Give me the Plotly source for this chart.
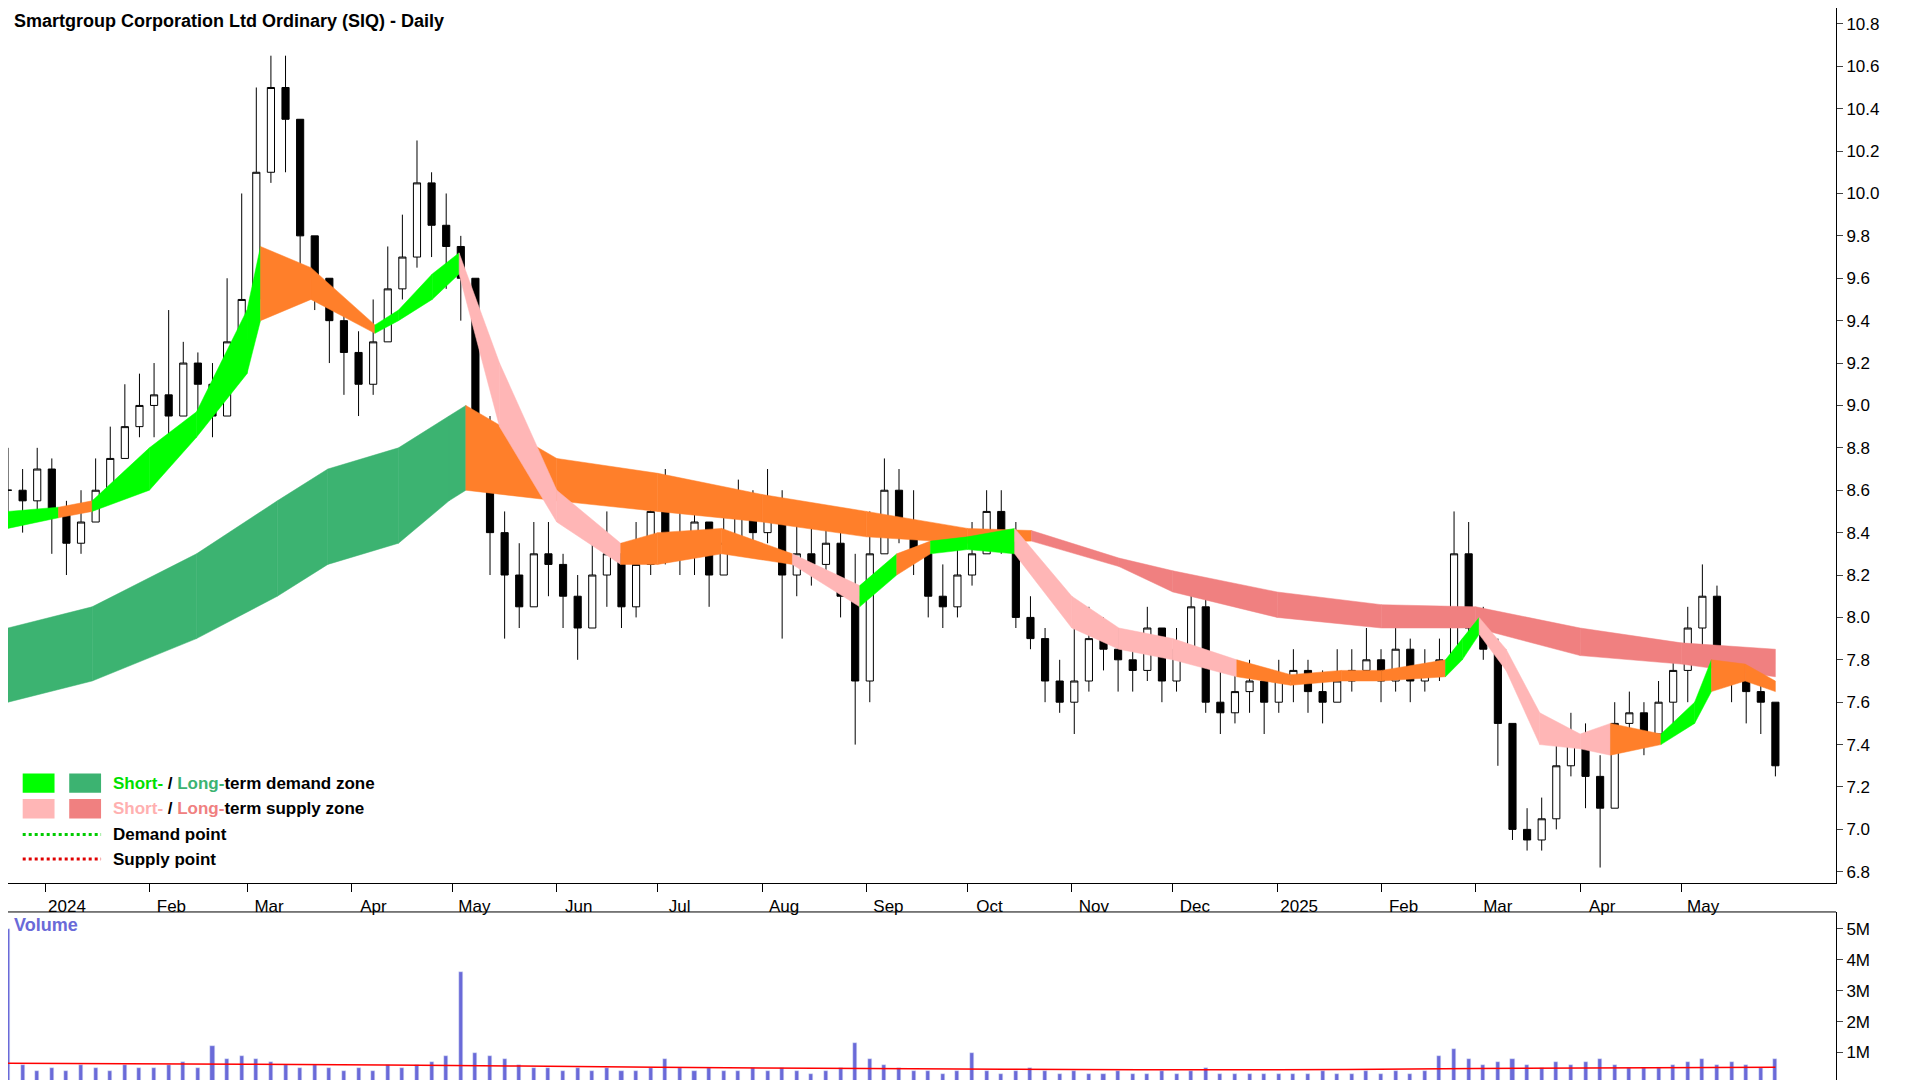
import pandas as pd
import plotly.graph_objects as go

# ---- price data (one bar per ~4 calendar days) ----
close = [8.6, 8.55, 8.7,
         8.5, 8.35, 8.45, 8.6, 8.75, 8.9, 9.0,
         9.05, 8.95, 9.2, 9.1, 8.95, 9.3, 9.5,
         10.1, 10.5, 10.35, 9.8, 9.6, 9.4, 9.25,
         9.1, 9.3, 9.55, 9.7, 10.05, 9.85, 9.75,
         9.6, 8.7, 8.4, 8.2, 8.05, 8.3, 8.25,
         8.1, 7.95, 8.2, 8.3, 8.05, 8.25, 8.5,
         8.4, 8.3, 8.45, 8.2, 8.35, 8.5, 8.4,
         8.55, 8.2, 8.3, 8.25, 8.35, 8.1, 7.7,
         8.3, 8.6, 8.45, 8.3, 8.1, 8.05, 8.2,
         8.3, 8.5, 8.4, 8.0, 7.9, 7.7, 7.6,
         7.7, 7.9, 7.85, 7.8, 7.75, 7.95, 7.7,
         7.85, 8.05, 7.6, 7.55, 7.65, 7.7, 7.6,
         7.7, 7.75, 7.65, 7.6, 7.7, 7.75, 7.8,
         7.7, 7.85, 7.7, 7.75, 7.8, 8.3, 7.95,
         7.85, 7.5, 7.0, 6.95, 7.05, 7.3, 7.4,
         7.25, 7.1, 7.5, 7.55, 7.45, 7.6, 7.75,
         7.95, 8.1, 7.8, 7.7, 7.65, 7.6, 7.3]
high = [8.8, 8.7, 8.8,
        8.75, 8.55, 8.6, 8.75, 8.9, 9.1, 9.15,
        9.2, 9.45, 9.3, 9.25, 9.2, 9.6, 10.0,
        10.5, 10.65, 10.65, 10.35, 9.8, 9.6, 9.45,
        9.35, 9.5, 9.75, 9.9, 10.25, 10.1, 10.0,
        9.8, 9.6, 8.95, 8.5, 8.35, 8.45, 8.45,
        8.3, 8.2, 8.35, 8.5, 8.35, 8.45, 8.65,
        8.7, 8.5, 8.6, 8.45, 8.6, 8.65, 8.6,
        8.7, 8.6, 8.45, 8.45, 8.5, 8.4, 8.3,
        8.5, 8.75, 8.7, 8.6, 8.3, 8.25, 8.35,
        8.45, 8.6, 8.6, 8.45, 8.1, 7.95, 7.8,
        7.95, 8.05, 8.0, 7.95, 7.9, 8.05, 7.95,
        7.95, 8.15, 8.1, 7.75, 7.8, 7.8, 7.75,
        7.8, 7.85, 7.8, 7.75, 7.85, 7.85, 7.95,
        7.85, 7.95, 7.9, 7.85, 7.9, 8.5, 8.45,
        8.05, 7.9, 7.5, 7.1, 7.15, 7.4, 7.55,
        7.5, 7.35, 7.6, 7.65, 7.6, 7.7, 7.85,
        8.05, 8.25, 8.15, 7.85, 7.8, 7.75, 7.6]
low = [8.45, 8.4, 8.5,
       8.3, 8.2, 8.3, 8.45, 8.6, 8.75, 8.85,
       8.85, 8.85, 8.95, 8.9, 8.85, 8.95, 9.3,
       9.5, 10.05, 10.1, 9.6, 9.45, 9.2, 9.05,
       8.95, 9.05, 9.3, 9.5, 9.65, 9.7, 9.55,
       9.4, 8.6, 8.2, 7.9, 7.95, 8.05, 8.1,
       7.95, 7.8, 7.95, 8.05, 7.95, 8.0, 8.2,
       8.25, 8.2, 8.2, 8.05, 8.2, 8.3, 8.3,
       8.35, 7.9, 8.1, 8.15, 8.2, 8.0, 7.4,
       7.6, 8.3, 8.35, 8.2, 8.0, 7.95, 8.0,
       8.15, 8.3, 8.3, 7.95, 7.85, 7.6, 7.55,
       7.45, 7.65, 7.75, 7.65, 7.65, 7.7, 7.6,
       7.65, 7.8, 7.55, 7.45, 7.5, 7.55, 7.45,
       7.55, 7.6, 7.55, 7.5, 7.6, 7.65, 7.7,
       7.6, 7.65, 7.6, 7.65, 7.7, 8.1, 7.85,
       7.8, 7.3, 6.95, 6.9, 6.9, 7.0, 7.25,
       7.1, 6.82, 7.1, 7.4, 7.35, 7.45, 7.5,
       7.6, 7.8, 7.7, 7.6, 7.5, 7.45, 7.25]
volume = [5.0, 0.6, 0.4,
          0.5, 0.4, 0.6, 0.5, 0.4, 0.6, 0.5,
          0.5, 0.6, 0.7, 0.5, 1.2, 0.8, 0.9,
          0.8, 0.7, 0.6, 0.5, 0.6, 0.5, 0.4,
          0.5, 0.4, 0.6, 0.5, 0.6, 0.7, 0.9,
          3.6, 1.0, 0.9, 0.8, 0.6, 0.5, 0.5,
          0.4, 0.5, 0.4, 0.5, 0.4, 0.4, 0.5,
          0.8, 0.5, 0.4, 0.5, 0.4, 0.4, 0.5,
          0.4, 0.5, 0.4, 0.3, 0.4, 0.5, 1.3,
          0.8, 0.6, 0.5, 0.4, 0.4, 0.3, 0.4,
          1.0, 0.4, 0.3, 0.4, 0.5, 0.4, 0.3,
          0.4, 0.3, 0.3, 0.4, 0.3, 0.3, 0.4,
          0.3, 0.4, 0.5, 0.3, 0.3, 0.3, 0.3,
          0.3, 0.3, 0.3, 0.4, 0.3, 0.3, 0.4,
          0.3, 0.4, 0.3, 0.4, 0.9, 1.1, 0.8,
          0.6, 0.7, 0.8, 0.6, 0.5, 0.7, 0.6,
          0.7, 0.8, 0.6, 0.5, 0.5, 0.5, 0.6,
          0.7, 0.8, 0.6, 0.7, 0.6, 0.5, 0.8]

# ---- volume moving average ----
vavg_dates = ["2023-12-21", "2024-03-01", "2024-05-01", "2024-07-01", "2024-09-01",
              "2024-11-01", "2025-01-01", "2025-03-01", "2025-05-29"]
vavg = [0.65, 0.62, 0.58, 0.52, 0.48, 0.45, 0.44, 0.48, 0.52]

# ---- long-term zone edges ----
long_dates = ["2023-12-21", "2024-01-15", "2024-02-15", "2024-03-10", "2024-03-25",
              "2024-04-15", "2024-04-30", "2024-05-05", "2024-06-01", "2024-07-01",
              "2024-08-01", "2024-09-01", "2024-10-01", "2024-10-20", "2024-11-15",
              "2024-12-01", "2025-01-01", "2025-02-01", "2025-03-01", "2025-04-01",
              "2025-05-01", "2025-05-29"]
long_upper = [7.95, 8.05, 8.3, 8.55, 8.7, 8.8, 8.95, 9.0, 8.75, 8.68, 8.58, 8.5,
              8.42, 8.41, 8.28, 8.22, 8.12, 8.06, 8.05, 7.95, 7.88, 7.85]
long_lower = [7.6, 7.7, 7.9, 8.1, 8.25, 8.35, 8.55, 8.6, 8.55, 8.5, 8.45, 8.38,
              8.35, 8.36, 8.24, 8.12, 8.0, 7.95, 7.95, 7.82, 7.78, 7.72]
long_zone = ["D"] * 7 + ["X"] * 6 + ["S"] * 8

# ---- short-term zone edges ----
short_dates = ["2023-12-21", "2024-01-05", "2024-01-15", "2024-02-01", "2024-02-15",
               "2024-03-01", "2024-03-05", "2024-03-20", "2024-04-08", "2024-04-15",
               "2024-04-25", "2024-05-03", "2024-05-15", "2024-06-01", "2024-06-20",
               "2024-07-01", "2024-07-20", "2024-08-10", "2024-08-30", "2024-09-10",
               "2024-09-20", "2024-10-01", "2024-10-15", "2024-11-01", "2024-11-15",
               "2024-12-01", "2024-12-20", "2025-01-05", "2025-01-20", "2025-02-01",
               "2025-02-20", "2025-02-25", "2025-03-02", "2025-03-10", "2025-03-20",
               "2025-04-01", "2025-04-10", "2025-04-25", "2025-05-05", "2025-05-10",
               "2025-05-20", "2025-05-29"]
short_upper = [8.5, 8.52, 8.55, 8.8, 8.97, 9.45, 9.75, 9.65, 9.38, 9.45, 9.62, 9.72,
               9.2, 8.6, 8.35, 8.4, 8.42, 8.3, 8.15, 8.3, 8.36, 8.38, 8.42, 8.1, 7.95,
               7.9, 7.8, 7.73, 7.75, 7.75, 7.8, 7.9, 8.0, 7.85, 7.55, 7.45, 7.5,
               7.45, 7.6, 7.8, 7.78, 7.7]
short_lower = [8.42, 8.47, 8.5, 8.6, 8.85, 9.15, 9.4, 9.5, 9.34, 9.4, 9.5, 9.62,
               8.9, 8.45, 8.25, 8.25, 8.3, 8.25, 8.05, 8.2, 8.3, 8.32, 8.3, 7.95, 7.85,
               7.8, 7.72, 7.68, 7.7, 7.7, 7.72, 7.8, 7.92, 7.75, 7.4, 7.38, 7.35,
               7.4, 7.5, 7.65, 7.7, 7.65]
short_zone = ["D", "X", "D", "D", "D", "D", "X", "X", "D", "D", "D",
              "S", "S", "S", "X", "X", "X", "S", "D", "X", "D", "D",
              "S", "S", "S", "S", "X", "X", "X", "X", "D", "D",
              "S", "S", "S", "S", "X", "D", "D", "X", "X"]

month_ticks = pd.date_range("2024-01-01", "2025-05-01", freq="MS")
month_text = [d.strftime("%Y") if d.month == 1 else d.strftime("%b") for d in month_ticks]

long_colors = {"D": "#3cb371", "X": "#ff7f2a", "S": "#f08080"}
short_colors = {"D": "#00ff00", "X": "#ff7f2a", "S": "#ffb6b6"}

dates = pd.date_range("2023-12-21", "2025-05-29", periods=len(close))
opens = [close[0]] + close[:-1]
hi = [max(h, o, c) for h, o, c in zip(high, opens, close)]
lo = [min(l, o, c) for l, o, c in zip(low, opens, close)]

fig = go.Figure()


def add_zone(dts, up, dn, zones, colors):
    dts = pd.to_datetime(dts)
    for i, z in enumerate(zones):
        xs = [dts[i], dts[i + 1], dts[i + 1], dts[i], dts[i]]
        ys = [up[i], up[i + 1], dn[i + 1], dn[i], up[i]]
        fig.add_trace(go.Scatter(x=xs, y=ys, fill="toself", fillcolor=colors[z],
                                 line=dict(width=0.5, color=colors[z]), mode="lines",
                                 hoverinfo="skip", showlegend=False,
                                 xaxis="x", yaxis="y"))


add_zone(long_dates, long_upper, long_lower, long_zone, long_colors)
add_zone(short_dates, short_upper, short_lower, short_zone, short_colors)

fig.add_trace(go.Candlestick(
    x=dates, open=opens, high=hi, low=lo, close=close,
    increasing=dict(line=dict(color="black", width=1), fillcolor="white"),
    decreasing=dict(line=dict(color="black", width=1), fillcolor="black"),
    whiskerwidth=0, showlegend=False, xaxis="x", yaxis="y"))

fig.add_trace(go.Bar(x=dates, y=volume, marker_color="#6a6ad8", width=1.2 * 86400000,
                     showlegend=False, xaxis="x2", yaxis="y2"))
fig.add_trace(go.Scatter(x=pd.to_datetime(vavg_dates), y=vavg, mode="lines",
                         line=dict(color="red", width=1.5, shape="spline"),
                         showlegend=False, xaxis="x2", yaxis="y2"))

font = "Liberation Sans"
xr = ["2023-12-21", "2025-06-16"]
fig.update_layout(
    width=1920, height=1080, paper_bgcolor="white", plot_bgcolor="white",
    margin=dict(l=0, r=92, t=0, b=0),
    font=dict(family=font, size=17, color="black"),
    xaxis=dict(domain=[0, 1], range=xr, anchor="y", rangeslider=dict(visible=False),
               tickvals=month_ticks, ticktext=month_text, ticklabelshift=22,
               ticks="outside", ticklen=8, tickcolor="black", showgrid=False,
               showline=True, linecolor="black", tickfont=dict(size=17, color="black")),
    yaxis=dict(domain=[0.19, 1], range=[6.748, 10.875], side="right", dtick=0.2,
               tickformat=".1f", ticks="outside", ticklen=6, showgrid=False,
               showline=True, linecolor="black", zeroline=False),
    xaxis2=dict(domain=[0, 1], range=xr, anchor="y2", matches="x", showticklabels=False,
                showgrid=False, showline=False, ticks=""),
    yaxis2=dict(domain=[0, 0.163], range=[-0.15, 5.55], side="right",
                tickvals=[1, 2, 3, 4, 5], ticktext=["1M", "2M", "3M", "4M", "5M"],
                ticks="outside", ticklen=6, showgrid=False, showline=True,
                linecolor="black", zeroline=False),
    bargap=0,
)

shapes = [dict(type="line", xref="paper", yref="paper", x0=0, x1=1, y0=0.163, y1=0.163,
               line=dict(color="black", width=1))]
annots = [
    dict(text="<b>Smartgroup Corporation Ltd Ordinary (SIQ) - Daily</b>", x=0.002, y=0.999,
         xref="paper", yref="paper", xanchor="left", yanchor="top", showarrow=False,
         font=dict(size=18)),
    dict(text="<b>Volume</b>", x=0.002, y=0.162, xref="paper", yref="paper",
         xanchor="left", yanchor="top", showarrow=False, font=dict(size=18, color="#6a6ad8")),
]

# legend drawn by hand
pw = 1920 - 92
rows = [
    (1 - 633 / 882, "#00ff00", "#3cb371", "#00e000", "#3cb371", "demand zone"),
    (1 - 654 / 882, "#ffb6b6", "#f08080", "#ffb0b0", "#f08080", "supply zone"),
]
for yc, c1, c2, t1, t2, label in rows:
    for x0, col in [(12, c1), (50, c2)]:
        shapes.append(dict(type="rect", xref="paper", yref="paper",
                           x0=x0 * 1.2245 / pw, x1=(x0 + 26) * 1.2245 / pw,
                           y0=yc - 0.009, y1=yc + 0.009, fillcolor=col, line=dict(width=0)))
    annots.append(dict(text=f"<b><span style='color:{t1}'>Short-</span> / "
                            f"<span style='color:{t2}'>Long-</span>term {label}</b>",
                       x=84 * 1.2245 / pw, y=yc, xref="paper", yref="paper",
                       xanchor="left", yanchor="middle", showarrow=False, font=dict(size=17)))
for yc, col, label in [(1 - 675 / 882, "#00cc00", "Demand point"),
                       (1 - 695 / 882, "#e00000", "Supply point")]:
    shapes.append(dict(type="line", xref="paper", yref="paper", x0=12 * 1.2245 / pw,
                       x1=76 * 1.2245 / pw, y0=yc, y1=yc,
                       line=dict(color=col, width=3, dash="dot")))
    annots.append(dict(text=f"<b>{label}</b>", x=84 * 1.2245 / pw, y=yc, xref="paper",
                       yref="paper", xanchor="left", yanchor="middle", showarrow=False,
                       font=dict(size=17)))

fig.update_layout(shapes=shapes, annotations=annots)
fig.write_html("out.html")
